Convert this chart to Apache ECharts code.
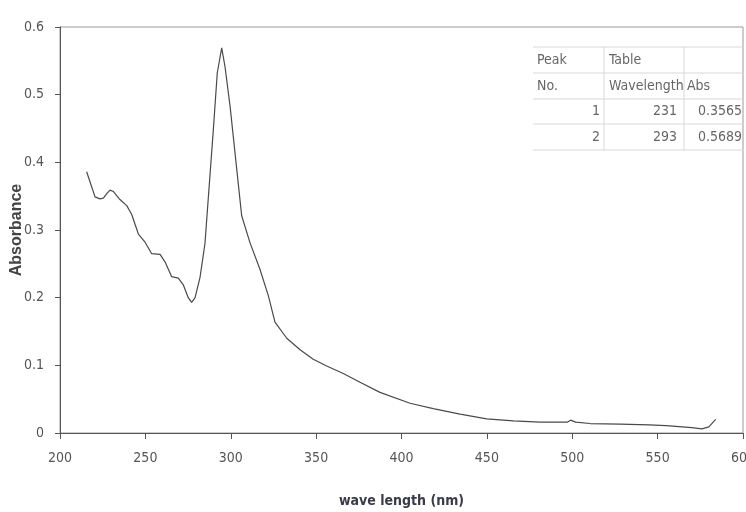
<!DOCTYPE html>
<html>
<head>
<meta charset="utf-8">
<script src="https://cdn.jsdelivr.net/npm/echarts@6/dist/echarts.min.js"></script>
<style>
  html, body { margin: 0; padding: 0; background: #fff; }
  #graphAbs { width: 746px; height: 512px; }
</style>
</head>
<body>
<div id="graphAbs"></div>
<script>
// spectrum
var wavelength = [215.6, 218, 220.5, 223.4, 225.4, 227.5, 229.3, 231.2, 235.1, 239.1,
    242.0, 245.9, 249.8, 253.7, 258.6, 261.5, 265.4, 269.3, 272.2, 275.1,
    277.1, 279.1, 282.0, 284.9, 286.9, 289.8, 292.1, 294.7, 296.6, 299.6,
    303.5, 306.4, 311.3, 317.1, 322.0, 325.9, 332.8, 340.6, 348.3, 356.2,
    365.9, 375.7, 387.4, 405.0, 418.6, 434.3, 449.9, 465.5, 481.1, 497,
    499, 502, 510.4, 528.0, 545, 555, 570, 576, 580, 584];
var absorbance = [0.386, 0.368, 0.349, 0.346, 0.347, 0.354, 0.359, 0.357, 0.345, 0.336,
    0.323, 0.294, 0.282, 0.265, 0.264, 0.253, 0.231, 0.229, 0.219, 0.200,
    0.193, 0.200, 0.230, 0.280, 0.349, 0.448, 0.532, 0.569, 0.542, 0.483,
    0.390, 0.321, 0.281, 0.242, 0.203, 0.164, 0.140, 0.123, 0.109, 0.099,
    0.088, 0.075, 0.060, 0.044, 0.036, 0.028, 0.021, 0.018, 0.016, 0.016,
    0.019, 0.016, 0.014, 0.013, 0.012, 0.011, 0.008, 0.006, 0.009, 0.020];

// peak table
var tableHead1 = ['Peak', 'Table', ''];
var tableHead2 = ['No.', 'Wavelength', 'Abs'];
var peakNo = ['1', '2'];
var peakWl = ['231', '293'];
var peakAbs = ['0.3565', '0.5689'];

var narrow = '"DejaVu Sans Condensed", "Liberation Sans Narrow", sans-serif';

function process_data(xs, ys){
    var out = [];
    for (var i = 0; i < xs.length; i++) {
        out.push([xs[i], ys[i]]);
    }
    return out;
}

// table layout
var colLeft = [537, 609, 687];
var colRight = [600, 677, 742];
var rowY = [60, 86, 111, 137];
var rowLines = [47, 73, 99, 124, 150];
var vLines = [604, 684];

function build_table(){
    var g = [];
    var txt = function (x, y, s, align) {
        g.push({type: 'text', x: x, y: y, silent: true,
            style: {text: s, fill: '#666', font: '14px ' + narrow, align: align, verticalAlign: 'middle'}});
    };
    for (var r = 0; r < rowLines.length; r++) {
        g.push({type: 'line', silent: true, shape: {x1: 533, y1: rowLines[r], x2: 743, y2: rowLines[r]},
            style: {stroke: '#d8d8d8', lineWidth: 1}});
    }
    for (var v = 0; v < vLines.length; v++) {
        g.push({type: 'line', silent: true, shape: {x1: vLines[v], y1: 47, x2: vLines[v], y2: 150},
            style: {stroke: '#d8d8d8', lineWidth: 1}});
    }
    for (var c = 0; c < 3; c++) {
        txt(colLeft[c], rowY[0], tableHead1[c], 'left');
        txt(colLeft[c], rowY[1], tableHead2[c], 'left');
    }
    for (var i = 0; i < peakNo.length; i++) {
        txt(colRight[0], rowY[2 + i], peakNo[i], 'right');
        txt(colRight[1], rowY[2 + i], peakWl[i], 'right');
        txt(colRight[2], rowY[2 + i], peakAbs[i], 'right');
    }
    return g;
}

var chart_abs = echarts.init(document.getElementById('graphAbs'));

chart_abs.setOption({
    animation: false,
    backgroundColor: '#fff',
    grid: {left: 60, right: 3, top: 27, bottom: 79, containLabel: false, outerBoundsMode: 'none',
        show: true, borderColor: '#999', borderWidth: 1},
    xAxis: {
        type: 'value', min: 200, max: 600, interval: 50,
        name: 'wave length (nm)', nameLocation: 'middle', nameGap: 61, nameMoveOverlap: false,
        nameTextStyle: {fontFamily: narrow, fontWeight: 'bold', fontSize: 14, color: '#3a3a48'},
        axisLine: {onZero: false, lineStyle: {color: '#555', width: 1}},
        axisTick: {show: true, inside: false, length: 6, lineStyle: {color: '#555'}},
        axisLabel: {margin: 18, fontFamily: narrow, fontSize: 14, color: '#555', hideOverlap: false},
        splitLine: {show: false}
    },
    yAxis: {
        type: 'value', min: 0, max: 0.6, interval: 0.1,
        name: 'Absorbance', nameLocation: 'middle', nameGap: 35, nameMoveOverlap: false,
        nameTextStyle: {fontFamily: '"Liberation Sans", Arial, sans-serif', fontWeight: 'bold', fontSize: 16, color: '#444'},
        axisLine: {show: true, lineStyle: {color: '#555', width: 1}},
        axisTick: {show: true, inside: false, length: 5, lineStyle: {color: '#555'}},
        axisLabel: {margin: 16, fontFamily: narrow, fontSize: 14, color: '#555'},
        splitLine: {show: false}
    },
    series: [{
        name: 'spectrum',
        type: 'line',
        showSymbol: false,
        smooth: false,
        lineStyle: {color: '#4a4a4a', width: 1.2},
        data: process_data(wavelength, absorbance)
    }],
    graphic: build_table()
});
</script>
</body>
</html>
